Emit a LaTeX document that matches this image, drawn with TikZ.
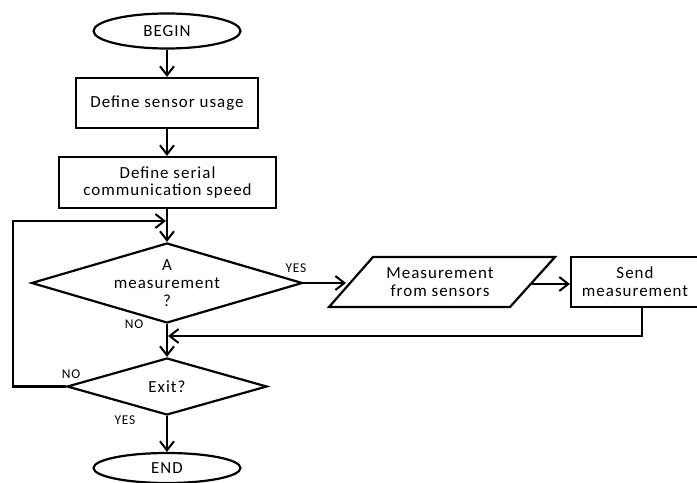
\documentclass[tikz,border=0pt]{standalone}
\usepackage{fontspec}
\setmainfont{Carlito}[LetterSpace=6]
\usetikzlibrary{shapes.geometric,arrows.meta}
\begin{document}
\begin{tikzpicture}[x=1bp,y=-1bp,
  line width=2.2bp,
  every node/.style={font=\fontsize{17}{18}\selectfont},
  term/.style={draw,ellipse,minimum width=147bp,minimum height=35bp,inner sep=0pt},
  proc/.style={draw,rectangle,align=center,inner sep=0pt},
  lab/.style={font=\fontsize{13.5}{14}\selectfont},
  arr/.style={-{Straight Barb[length=9bp,width=14bp,line width=2bp]}}
]
\useasboundingbox (0,0) rectangle (697,483);
\node[term] (begin) at (167,31) {BEGIN};
\node[proc,minimum width=182bp,minimum height=50bp] (s1) at (167,103) {Define sensor usage};
\node[proc,minimum width=217bp,minimum height=51bp] (s2) at (167.5,182.5) {Define serial\\communication speed};
\node[draw,minimum width=271bp,minimum height=80bp,diamond,aspect=3.39,inner sep=0pt] (d1) at (167,283) {};
\node[align=center] at (167,283) {A\\measurement\\?};
\node[draw,diamond,aspect=3.5,minimum width=200bp,minimum height=57bp,inner sep=0pt] (d2) at (167,386.5) {};
\node at (167,386.5) {Exit?};
\node[term,minimum height=30bp] (end) at (167,468) {END};
\coordinate (pbl) at (329,307);
\coordinate (ptl) at (373,257);
\coordinate (ptr) at (555,257);
\coordinate (pbr) at (510,307);
\draw (pbl) -- (ptl) -- (ptr) -- (pbr) -- cycle;
\node[align=center] (meas) at (440,282) {Measurement\\from sensors};
\coordinate (pin) at (346,283);
\coordinate (pout) at (532,284);
\node[proc,minimum width=128bp,minimum height=50bp] (send) at (635,282) {Send\\measurement};
\coordinate (d1r) at (302,283);
\coordinate (loopin) at (167,221);
\coordinate (join) at (167,336);
% connectors
\draw[arr] (begin) -- (s1.north -| begin);
\draw[arr] (s1.south -| begin) -- (s2.north -| begin);
\draw[arr] (s2.south -| begin) -- (d1.north);
\draw[arr] (d1r) -- (pin);
\draw[arr] (pout) -- (pout -| send.west);
\draw[arr] (send.south -| 642,0) |- ([xshift=1bp]join);
\draw[arr] (d1.south) -- (d2.north);
\draw[arr] (d2.west) -- (13,386.5) |- ([xshift=-1bp]loopin);
\draw[arr] (d2.south) -- (end.north);
% labels
\node[lab] at (296,268) {YES};
\node[lab] at (134,324) {NO};
\node[lab] at (71,374) {NO};
\node[lab] at (125,420) {YES};
\end{tikzpicture}
\end{document}
